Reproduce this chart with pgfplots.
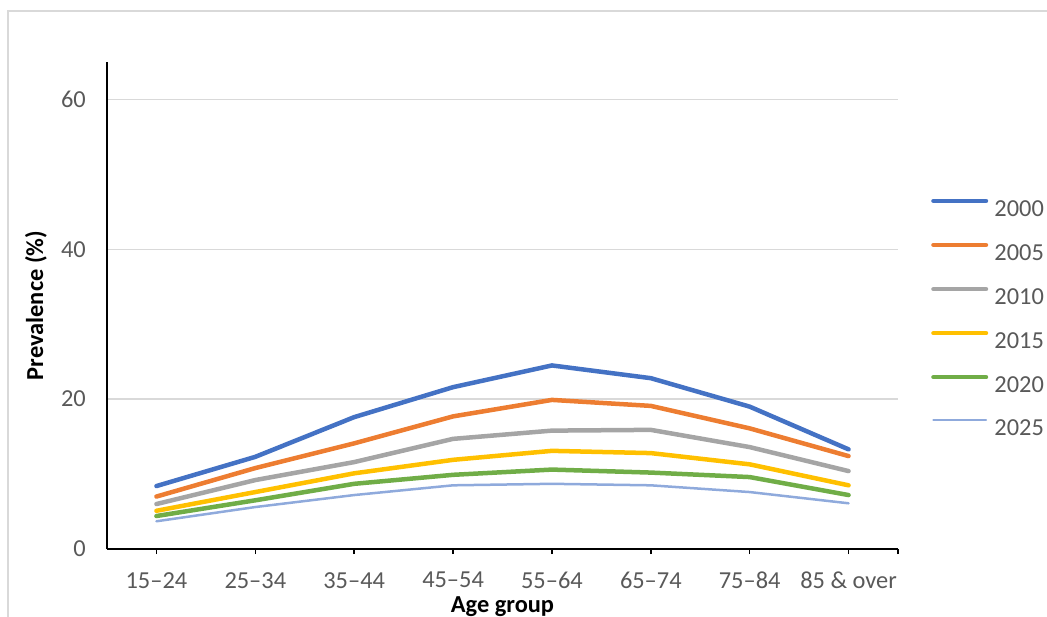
\documentclass[border=0pt]{standalone}
\usepackage{pgfplots}
\pgfplotsset{compat=1.18}
\usepackage{fontspec}
\setmainfont{Carlito}
\definecolor{cA}{HTML}{4472C4}
\definecolor{cB}{HTML}{ED7D31}
\definecolor{cC}{HTML}{A5A5A5}
\definecolor{cD}{HTML}{FFC000}
\definecolor{cE}{HTML}{70AD47}
\definecolor{cF}{HTML}{8FAADC}
\definecolor{gridgray}{HTML}{D9D9D9}
\definecolor{txtgray}{HTML}{595959}
\newcommand{\tfont}{\fontsize{24.4bp}{28bp}\selectfont}
\begin{document}
\begin{tikzpicture}
\path[use as bounding box] (0bp,0bp) rectangle (1047bp,617bp);
\draw[color=gridgray, line width=1.5bp] (8bp,0bp) -- (8bp,606bp) -- (1047bp,606bp);
\begin{axis}[
  at={(107bp,68bp)}, anchor=south west,
  scale only axis, width=791bp, height=487bp,
  xmin=-0.5, xmax=7.5, ymin=0, ymax=65,
  axis x line=bottom, axis y line=left,
  axis line style={-, black, line width=1.5bp},
  xtick={0,1,2,3,4,5,6,7},
  xticklabels={15–24,25–34,35–44,45–54,55–64,65–74,75–84,85 \& over},
  extra x ticks={7.5}, extra x tick labels={},
  extra x tick style={grid=none},
  ytick={0,20,40,60},
  ymajorgrids, grid style={color=gridgray, line width=1.5bp},
  tick align=outside,
  x tick style={black, line width=1.5bp},
  major tick length=5bp,
  y tick style={draw=none},
  /pgf/number format/assume math mode=true,
  ticklabel style={font=\tfont, text=txtgray, inner sep=0pt},
  xticklabel style={anchor=north, yshift=-18bp},
  yticklabel style={anchor=east, xshift=-16bp},
  xlabel={\textbf{Age group}},
  ylabel={\textbf{Prevalence (\%)}},
  label style={font=\tfont, text=black, inner sep=0pt},
  xlabel style={at={(axis description cs:0.5,-0.1314)}, anchor=base},
  ylabel style={at={(axis description cs:-0.0809,0.5)}, anchor=base},
  legend cell align=left,
  legend image code/.code={\draw[#1, line cap=round] (0bp,7.7bp) -- (52.5bp,7.7bp);},
  legend style={draw=none, fill=none, inner sep=0pt, outer sep=0pt,
    at={(axis description cs:1.042,0.7193)}, anchor=north west,
    font=\tfont, text=txtgray, row sep=26.1bp, column sep=6.25bp,
    nodes={inner sep=0pt, text height=16bp, text depth=0bp}},
  every axis plot/.append style={line join=round, line cap=round},
  clip=false,
]
\addplot[cA, line width=4.5bp] coordinates {(0,8.4)(1,12.3)(2,17.6)(3,21.6)(4,24.5)(5,22.8)(6,19.0)(7,13.3)};
\addlegendentry{2000}
\addplot[cB, line width=4.5bp] coordinates {(0,7.0)(1,10.8)(2,14.1)(3,17.7)(4,19.9)(5,19.1)(6,16.1)(7,12.4)};
\addlegendentry{2005}
\addplot[cC, line width=4.5bp] coordinates {(0,6.0)(1,9.2)(2,11.6)(3,14.7)(4,15.8)(5,15.9)(6,13.6)(7,10.4)};
\addlegendentry{2010}
\addplot[cD, line width=4.5bp] coordinates {(0,5.1)(1,7.6)(2,10.1)(3,11.9)(4,13.1)(5,12.8)(6,11.3)(7,8.5)};
\addlegendentry{2015}
\addplot[cE, line width=4.5bp] coordinates {(0,4.4)(1,6.5)(2,8.7)(3,9.9)(4,10.6)(5,10.2)(6,9.6)(7,7.2)};
\addlegendentry{2020}
\addplot[cF, line width=2.5bp] coordinates {(0,3.7)(1,5.6)(2,7.2)(3,8.5)(4,8.7)(5,8.5)(6,7.6)(7,6.1)};
\addlegendentry{2025}
\end{axis}
\end{tikzpicture}
\end{document}
